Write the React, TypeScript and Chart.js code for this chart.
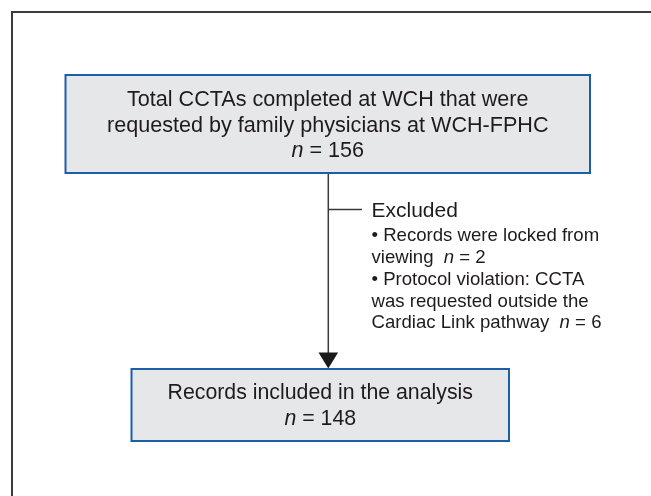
import React, { useEffect, useRef } from "react";
import { Chart, registerables } from "chart.js";

Chart.register(...registerables);

// ---- Data (text and counts) ----
const topBoxLines = [
  "Total CCTAs completed at WCH that were",
  "requested by family physicians at WCH-FPHC",
];
const totalN = 156;
const excludedTitle = "Excluded";
const lockedLines = ["• Records were locked from", "viewing  "];
const lockedN = 2;
const violationLines = ["• Protocol violation: CCTA", "was requested outside the", "Cardiac Link pathway  "];
const violationN = 6;
const includedLines = ["Records included in the analysis"];
const includedN = 148;

// ---- Layout (positions in page pixel units, mapped through the chart scales) ----
const W = 651;
const H = 496;
const LAYOUT = {
  frame: { x0: 12, y0: 12, x1: 700, y1: 560 },
  topBox: { x0: 65.5, y0: 75, x1: 590, y1: 173, baselines: [106, 131.5, 156.5], size: 21.6 },
  bottomBox: { x0: 131.5, y0: 369, x1: 509, y1: 441, baselines: [399, 424.5], size: 21.3 },
  mainX: 328.3,
  branchY: 209.5,
  branchX1: 362,
  arrowTop: 352.5,
  arrowTip: 368.5,
  arrowHalf: 9.8,
  excl: { x: 371.5, titleBaseline: 216.5, titleSize: 21, baselines: [240.5, 262.5, 285, 306.7, 328.3], size: 18.6 },
};

const FONT = '"Liberation Sans", Arial, Helvetica, sans-serif';
const TEXT_COLOR = "#1f1b1c";
const BOX_FILL = "#e6e7e9";
const BOX_STROKE = "#1d5fa7";
const LINE_COLOR = "#3a3a3a";

type Seg = { t: string; i?: boolean };

function drawRich(ctx: CanvasRenderingContext2D, segs: Seg[], x: number, y: number, size: number, align: "center" | "left") {
  let total = 0;
  const widths: number[] = [];
  for (const s of segs) {
    ctx.font = `${s.i ? "italic " : ""}${size}px ${FONT}`;
    const w = ctx.measureText(s.t).width;
    widths.push(w);
    total += w;
  }
  let cx = align === "center" ? x - total / 2 : x;
  segs.forEach((s, k) => {
    ctx.font = `${s.i ? "italic " : ""}${size}px ${FONT}`;
    ctx.fillText(s.t, cx, y);
    cx += widths[k];
  });
}

const flowPlugin = {
  id: "flow",
  beforeDraw(chart: any) {
    const { ctx } = chart;
    const sx = chart.scales.x;
    const sy = chart.scales.y;
    const px = (v: number) => sx.getPixelForValue(v);
    const py = (v: number) => sy.getPixelForValue(v);
    ctx.save();
    ctx.fillStyle = "#ffffff";
    ctx.fillRect(0, 0, chart.width, chart.height);
    const f = LAYOUT.frame;
    ctx.strokeStyle = "#3b3b3b";
    ctx.lineWidth = 2;
    ctx.strokeRect(px(f.x0), py(f.y0), px(f.x1) - px(f.x0), py(f.y1) - py(f.y0));
    ctx.restore();
  },
  afterDatasetsDraw(chart: any) {
    const { ctx } = chart;
    const sx = chart.scales.x;
    const sy = chart.scales.y;
    const px = (v: number) => sx.getPixelForValue(v);
    const py = (v: number) => sy.getPixelForValue(v);
    ctx.save();

    // Arrow head
    ctx.fillStyle = "#1a1a1a";
    ctx.beginPath();
    ctx.moveTo(px(LAYOUT.mainX - LAYOUT.arrowHalf), py(LAYOUT.arrowTop));
    ctx.lineTo(px(LAYOUT.mainX + LAYOUT.arrowHalf), py(LAYOUT.arrowTop));
    ctx.lineTo(px(LAYOUT.mainX), py(LAYOUT.arrowTip));
    ctx.closePath();
    ctx.fill();

    // Boxes
    const drawBox = (b: any, lines: Seg[][]) => {
      ctx.fillStyle = BOX_FILL;
      ctx.fillRect(px(b.x0), py(b.y0), px(b.x1) - px(b.x0), py(b.y1) - py(b.y0));
      ctx.strokeStyle = BOX_STROKE;
      ctx.lineWidth = 2;
      ctx.strokeRect(px(b.x0), py(b.y0), px(b.x1) - px(b.x0), py(b.y1) - py(b.y0));
      ctx.fillStyle = TEXT_COLOR;
      ctx.textBaseline = "alphabetic";
      const cx = px((b.x0 + b.x1) / 2);
      lines.forEach((segs, k) => drawRich(ctx, segs, cx, py(b.baselines[k]), b.size, "center"));
    };
    drawBox(LAYOUT.topBox, [
      ...topBoxLines.map((t) => [{ t }]),
      [{ t: "n", i: true }, { t: " = " + totalN }],
    ]);
    drawBox(LAYOUT.bottomBox, [
      ...includedLines.map((t) => [{ t }]),
      [{ t: "n", i: true }, { t: " = " + includedN }],
    ]);

    // Excluded text
    const e = LAYOUT.excl;
    ctx.fillStyle = TEXT_COLOR;
    ctx.textBaseline = "alphabetic";
    drawRich(ctx, [{ t: excludedTitle }], px(e.x), py(e.titleBaseline), e.titleSize, "left");
    const exLines: Seg[][] = [
      [{ t: lockedLines[0] }],
      [{ t: lockedLines[1] }, { t: "n", i: true }, { t: " = " + lockedN }],
      [{ t: violationLines[0] }],
      [{ t: violationLines[1] }],
      [{ t: violationLines[2] }, { t: "n", i: true }, { t: " = " + violationN }],
    ];
    exLines.forEach((segs, k) => drawRich(ctx, segs, px(e.x), py(e.baselines[k]), e.size, "left"));
    ctx.restore();
  },
};

export default function App() {
  const ref = useRef<HTMLCanvasElement | null>(null);
  useEffect(() => {
    if (!ref.current) return;
    const chart = new Chart(ref.current, {
      type: "line",
      data: {
        datasets: [
          {
            data: [
              { x: LAYOUT.mainX, y: LAYOUT.topBox.y1 },
              { x: LAYOUT.mainX, y: LAYOUT.arrowTop + 1 },
            ],
            borderColor: LINE_COLOR,
            borderWidth: 1.5,
            pointRadius: 0,
            fill: false,
          },
          {
            data: [
              { x: LAYOUT.mainX, y: LAYOUT.branchY },
              { x: LAYOUT.branchX1, y: LAYOUT.branchY },
            ],
            borderColor: LINE_COLOR,
            borderWidth: 1.5,
            pointRadius: 0,
            fill: false,
          },
        ],
      },
      options: {
        responsive: false,
        animation: false,
        devicePixelRatio: 1,
        layout: { padding: 0 },
        events: [],
        plugins: { legend: { display: false }, tooltip: { enabled: false }, title: { display: false } },
        scales: {
          x: { type: "linear", min: 0, max: W, display: false },
          y: { type: "linear", min: 0, max: H, reverse: true, display: false },
        },
      },
      plugins: [flowPlugin],
    } as any);
    return () => chart.destroy();
  }, []);
  return (
    <canvas
      ref={ref}
      width={W}
      height={H}
      style={{ position: "fixed", left: 0, top: 0, width: W, height: H, display: "block" }}
    />
  );
}
